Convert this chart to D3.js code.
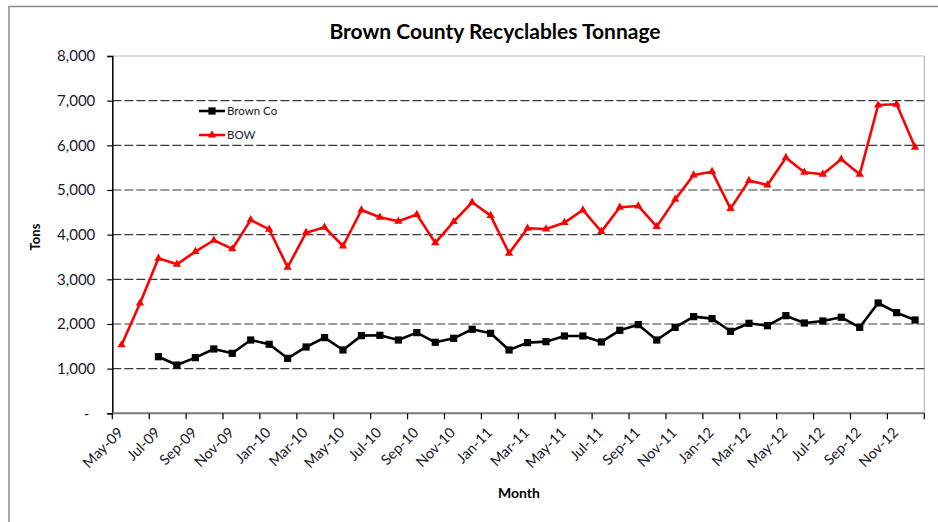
<!DOCTYPE html>
<html><head><meta charset="utf-8">
<script src="https://cdn.jsdelivr.net/npm/d3@7/dist/d3.min.js"></script>
<style>
html,body{margin:0;padding:0;background:#fff;}
svg{display:block;font-family:Lato,"Open Sans",sans-serif;}
</style></head>
<body>
<svg id="chart" width="938" height="522"></svg>
<script>
const months = ["May-09","Jun-09","Jul-09","Aug-09","Sep-09","Oct-09","Nov-09","Dec-09",
"Jan-10","Feb-10","Mar-10","Apr-10","May-10","Jun-10","Jul-10","Aug-10","Sep-10","Oct-10","Nov-10","Dec-10",
"Jan-11","Feb-11","Mar-11","Apr-11","May-11","Jun-11","Jul-11","Aug-11","Sep-11","Oct-11","Nov-11","Dec-11",
"Jan-12","Feb-12","Mar-12","Apr-12","May-12","Jun-12","Jul-12","Aug-12","Sep-12","Oct-12","Nov-12","Dec-12"];
const bowValues = [1530,2465,3470,3336,3620,3875,3680,4330,4120,3270,4045,4165,3746,4552,4390,4300,4450,3815,4290,4725,
4425,3583,4142,4127,4268,4552,4067,4612,4642,4180,4790,5336,5410,4582,5210,5112,5724,5396,5351,5687,5351,6903,6919,5956];
const brownValues = [null,null,1267,1081,1246,1440,1343,1641,1545,1231,1485,1694,1418,1739,1746,1641,1806,1590,1679,1881,
1791,1418,1582,1604,1731,1731,1597,1858,1985,1641,1925,2164,2119,1836,2015,1962,2186,2022,2067,2150,1925,2470,2253,2089];
const yTicks = [0,1000,2000,3000,4000,5000,6000,7000,8000];
const tickLabelMonths = months.filter((m,i)=>i%2===0);
const title = "Brown County Recyclables Tonnage";
const seriesNames = ["Brown Co","BOW"];

const svg = d3.select("#chart");
const L=112.3, R=924.3, T=56, B=413.3;

// outer border
svg.append("rect").attr("x",9).attr("y",6.5).attr("width",1000).attr("height",1000)
  .attr("fill","none").attr("stroke","#8a8a8a").attr("stroke-width",1.5);

const x = d3.scaleBand().domain(months).range([L,R]).padding(0);
const y = d3.scaleLinear().domain([0,8000]).range([B,T]);
const cx = m => x(m)+x.bandwidth()/2;

// plot border (top/right)
svg.append("path").attr("d",`M${L},${T}H${R}V${B}`).attr("fill","none").attr("stroke","#bdbdbd").attr("stroke-width",1.2);

// gridlines
svg.append("g").selectAll("line").data(yTicks.filter(v=>v>0&&v<8000)).join("line")
  .attr("x1",L).attr("x2",R).attr("y1",d=>y(d)).attr("y2",d=>y(d))
  .attr("stroke","#3a3a3a").attr("stroke-width",1.2).attr("stroke-dasharray","9,3");

// y axis
const yAxis = d3.axisLeft(y).tickValues(yTicks).tickSize(5).tickPadding(12)
  .tickFormat(d=>d===0?"-":d3.format(",")(d));
const gy = svg.append("g").attr("transform",`translate(${L},0)`).call(yAxis);
gy.select(".domain").attr("stroke","#000").attr("stroke-width",1.5);
gy.selectAll(".tick line").attr("stroke","#000").attr("stroke-width",1.2);
gy.selectAll(".tick text").attr("font-family","Lato").attr("font-size",15).attr("fill","#1a1a2a");
gy.selectAll(".tick text").filter(d=>d===0).attr("dx",-6);

// x axis line
svg.append("line").attr("x1",L).attr("x2",R).attr("y1",B).attr("y2",B).attr("stroke","#7a7a7a").attr("stroke-width",2);
// x ticks at every 2nd category boundary + end
const tickPos = months.filter((m,i)=>i%2===0).map(m=>x(m)).concat([R]);
svg.append("g").selectAll("line").data(tickPos).join("line")
  .attr("x1",d=>d).attr("x2",d=>d).attr("y1",B).attr("y2",B+6).attr("stroke","#000").attr("stroke-width",1.2);
// x labels
svg.append("g").selectAll("text").data(tickLabelMonths).join("text")
  .attr("transform",d=>`translate(${cx(d)-1},${430}) rotate(-45)`)
  .attr("text-anchor","end").attr("dy","0.35em")
  .attr("font-size",14.5).attr("fill","#1a1a2a").text(d=>d);

// lines
const line = d3.line().defined(d=>d.v!=null).x(d=>cx(d.m)).y(d=>y(d.v));
const brownData = months.map((m,i)=>({m,v:brownValues[i]}));
const bowData = months.map((m,i)=>({m,v:bowValues[i]}));

svg.append("path").datum(brownData).attr("d",line).attr("fill","none").attr("stroke","#000").attr("stroke-width",2.6).attr("stroke-linejoin","round");
svg.append("g").selectAll("rect").data(brownData.filter(d=>d.v!=null)).join("rect")
  .attr("x",d=>cx(d.m)-3.6).attr("y",d=>y(d.v)-3.6).attr("width",7.2).attr("height",7.2).attr("fill","#000");

const tri = d3.symbol().type(d3.symbolTriangle).size(30);
svg.append("path").datum(bowData).attr("d",line).attr("fill","none").attr("stroke","#ff0000").attr("stroke-width",2.6).attr("stroke-linejoin","round");
svg.append("g").selectAll("path").data(bowData).join("path")
  .attr("d",tri).attr("transform",d=>`translate(${cx(d.m)},${y(d.v)})`).attr("fill","#ff0000");

// legend
const lg = svg.append("g");
const legendRows = [{name:seriesNames[0],color:"#000",sym:"sq",yy:111},{name:seriesNames[1],color:"#ff0000",sym:"tri",yy:135}];
legendRows.forEach(r=>{
  lg.append("line").attr("x1",199).attr("x2",225).attr("y1",r.yy).attr("y2",r.yy).attr("stroke",r.color).attr("stroke-width",2.6);
  if(r.sym==="sq") lg.append("rect").attr("x",212-3.6).attr("y",r.yy-3.6).attr("width",7.2).attr("height",7.2).attr("fill",r.color);
  else lg.append("path").attr("d",tri).attr("transform",`translate(212,${r.yy})`).attr("fill",r.color);
  lg.append("text").attr("x",227).attr("y",r.yy).attr("dy","0.35em").attr("font-size",11.5).attr("fill","#1a1a2a").text(r.name);
});

// title
svg.append("text").attr("x",495).attr("y",39).attr("text-anchor","middle").attr("font-weight","bold")
  .attr("font-size",21).attr("fill","#000").text(title);
// axis titles
svg.append("text").attr("transform","translate(35,237) rotate(-90)").attr("text-anchor","middle").attr("dy","0.35em")
  .attr("font-weight","bold").attr("font-size",13).attr("fill","#000").text("Tons");
svg.append("text").attr("x",519).attr("y",493).attr("text-anchor","middle").attr("dy","0.35em")
  .attr("font-weight","bold").attr("font-size",14).attr("fill","#000").text("Month");
</script>
</body></html>
